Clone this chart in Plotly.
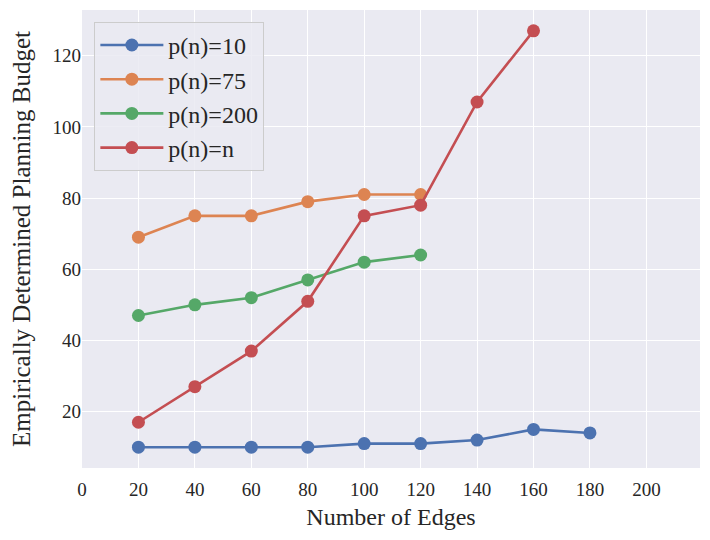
import plotly.graph_objects as go

edges = [20, 40, 60, 80, 100, 120, 140, 160, 180]
budget_p10 = [10, 10, 10, 10, 11, 11, 12, 15, 14]
budget_p75 = [69, 75, 75, 79, 81, 81]
budget_p200 = [47, 50, 52, 57, 62, 64]
budget_pn = [17, 27, 37, 51, 75, 78, 107, 127]

series = [
    ("p(n)=10", budget_p10, "#4C72B0"),
    ("p(n)=75", budget_p75, "#DD8452"),
    ("p(n)=200", budget_p200, "#55A868"),
    ("p(n)=n", budget_pn, "#C44E52"),
]

fig = go.Figure()
for name, vals, color in series:
    fig.add_trace(go.Scatter(
        x=edges[:len(vals)], y=vals, name=name,
        mode="lines+markers",
        line=dict(color=color, width=2.6),
        marker=dict(color=color, size=13),
    ))

font = "Liberation Serif"
fig.update_xaxes(
    range=[0, 219], tickvals=list(range(0, 220, 20)), automargin=False,
    showgrid=True, gridcolor="white", gridwidth=1.2, zeroline=False,
    ticks="", ticklabelstandoff=8,
    tickfont=dict(size=19, color="#262626", family=font),
    title=dict(text="Number of Edges", standoff=9,
               font=dict(size=24, color="#262626", family=font)),
)
fig.update_yaxes(
    range=[4.15, 132.85], tickvals=[20, 40, 60, 80, 100, 120], automargin=False,
    showgrid=True, gridcolor="white", gridwidth=1.2, zeroline=False,
    ticks="", tickfont=dict(size=19, color="#262626", family=font),
    title=dict(text="Empirically Determined Planning Budget", standoff=15,
               font=dict(size=25, color="#262626", family=font)),
)
# the page body adds 8px, so margins are shifted to land on the same pixels
fig.update_layout(
    width=710, height=540,
    margin=dict(l=74, r=18, t=2, b=80),
    plot_bgcolor="#EAEAF2", paper_bgcolor="white",
    font=dict(family=font, color="#262626"),
    legend=dict(
        x=0.02, y=0.974, xanchor="left", yanchor="top",
        bgcolor="rgba(234,234,242,0.85)", bordercolor="#CCCCCC", borderwidth=1,
        font=dict(size=24, family=font, color="#262626"),
        itemwidth=63,
    ),
)
fig.write_html("out.html")
